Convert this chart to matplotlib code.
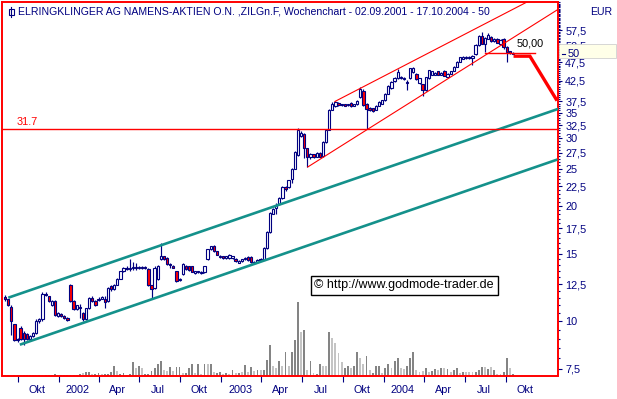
import matplotlib
matplotlib.use('Agg')
import matplotlib.pyplot as plt
import matplotlib.dates as mdates
from matplotlib.ticker import FixedLocator, FixedFormatter, NullFormatter
from matplotlib.transforms import blended_transform_factory
from matplotlib.patches import Rectangle
from matplotlib.lines import Line2D
import numpy as np
import pandas as pd

plt.rcParams['font.family'] = ['Liberation Sans', 'DejaVu Sans']

# ---------------- data ----------------
start_date = '2001-09-02'

opens = [11.55, 11.4, 10.9, 9.8, 8.9, 9.6, 9.3, 9.25, 9.0, 9.15,
         9.3, 10.0, 10.1, 11.8, 11.6, 11.0, 11.3, 10.3, 10.45, 10.3,
         10.2, 12.4, 11.3, 10.75, 10.9, 10.5, 10.1, 10.8, 11.5, 11.3,
         11.35, 11.45, 11.45, 11.3, 12.35, 12.1, 12.45, 12.9, 13.5, 13.8,
         13.7, 13.8, 13.85, 13.75, 13.85, 13.85, 13.7, 12.4, 12.2, 12.9,
         14.5, 14.75, 14.6, 14.1, 13.95, 13.5, 12.8, 13.3, 13.9, 13.9,
         13.9, 13.35, 13.4, 13.35, 13.4, 14.5, 15.4, 15.7, 15.2, 14.7,
         14.75, 14.6, 14.6, 14.6, 14.55, 14.2, 14.35, 14.5, 14.7, 14.7,
         14.2, 14.3, 14.55, 14.45, 15.5, 17.1, 19.1, 19.7, 20.2, 21.0,
         22.35, 22.4, 23.5, 25.0, 27.1, 30.4, 30.9, 28.3, 26.8, 27.3,
         26.9, 27.5, 27.0, 29.3, 31.6, 35.6, 36.5, 37.2, 36.6, 36.9,
         36.6, 37.2, 36.5, 36.8, 38.5, 40.0, 37.0, 36.0, 36.0, 35.6,
         36.5, 36.9, 37.7, 39.3, 40.6, 42.4, 43.1, 43.4, 43.0, 42.0,
         43.1, 44.8, 44.3, 41.8, 41.5, 40.1, 43.1, 44.0, 44.0, 44.9,
         44.0, 45.0, 43.4, 44.2, 45.0, 46.2, 47.5, 48.5, 48.6, 48.6,
         48.8, 49.8, 52.6, 55.7, 53.0, 54.6, 55.1, 53.8, 54.5, 52.8,
         54.6, 52.0, 50.7, 50.3]

highs = [11.7, 11.45, 11.0, 9.85, 9.05, 9.7, 9.4, 9.3, 9.2, 9.35,
         10.1, 10.2, 11.9, 11.9, 11.65, 11.35, 11.35, 10.55, 10.5, 10.35,
         10.25, 12.5, 11.35, 11.05, 11.1, 10.55, 10.85, 11.55, 11.6, 11.35,
         11.55, 11.6, 11.6, 12.25, 12.4, 12.5, 12.95, 13.55, 13.85, 13.9,
         14.5, 14.3, 14.2, 13.9, 13.9, 13.9, 13.75, 12.45, 13.9, 14.0,
         16.0, 14.8, 14.7, 14.2, 14.0, 13.55, 12.95, 14.15, 14.0, 13.95,
         13.95, 13.55, 13.55, 13.5, 13.95, 15.45, 15.75, 15.8, 15.25, 14.85,
         14.8, 14.8, 14.95, 14.8, 14.6, 14.4, 14.55, 14.7, 14.75, 14.75,
         14.35, 14.5, 14.6, 15.6, 17.2, 19.3, 19.8, 20.3, 21.1, 22.5,
         22.5, 23.4, 25.1, 27.8, 31.9, 31.3, 31.0, 28.4, 27.5, 27.4,
         27.6, 27.6, 29.5, 31.7, 35.8, 37.4, 37.6, 37.3, 37.0, 37.0,
         37.0, 37.3, 37.0, 37.8, 41.0, 40.5, 37.1, 36.2, 36.1, 36.7,
         37.6, 37.9, 39.5, 41.4, 42.3, 43.4, 45.6, 43.6, 43.4, 42.6,
         45.8, 46.1, 44.5, 43.2, 41.7, 43.5, 45.4, 45.0, 44.8, 45.0,
         44.8, 45.2, 44.5, 45.1, 46.4, 47.7, 49.1, 49.3, 49.2, 49.2,
         49.5, 52.8, 56.0, 57.0, 55.3, 56.6, 55.4, 54.9, 54.8, 54.6,
         54.8, 52.2, 50.9, 50.5]

lows = [11.3, 10.95, 9.2, 8.85, 8.8, 8.95, 8.65, 8.95, 8.95, 9.1,
        9.25, 9.9, 10.0, 11.6, 11.25, 10.95, 10.3, 10.25, 10.25, 10.1,
        10.0, 11.25, 10.7, 10.7, 10.2, 10.0, 10.05, 10.75, 11.25, 10.95,
        11.3, 11.4, 10.8, 11.2, 12.0, 12.05, 12.4, 12.85, 13.45, 13.6,
        13.5, 13.6, 13.6, 13.7, 13.7, 13.65, 12.35, 11.5, 12.1, 12.8,
        14.4, 14.45, 14.0, 13.8, 13.75, 12.65, 12.75, 13.2, 13.6, 13.55,
        13.4, 13.3, 13.35, 13.3, 13.35, 14.4, 15.3, 15.15, 14.85, 14.65,
        14.55, 14.55, 14.55, 14.55, 14.3, 14.15, 14.3, 14.45, 14.35, 14.2,
        14.15, 14.25, 14.35, 14.4, 15.4, 17.0, 19.0, 19.0, 20.1, 20.9,
        21.9, 22.3, 23.0, 24.9, 27.0, 30.2, 26.7, 25.2, 26.5, 26.7,
        26.8, 26.8, 26.9, 29.2, 31.5, 35.5, 36.3, 36.5, 36.4, 36.4,
        36.5, 36.3, 36.4, 36.7, 38.3, 36.5, 31.7, 35.4, 35.2, 35.5,
        36.4, 36.8, 37.6, 39.2, 40.5, 42.2, 42.8, 42.9, 42.7, 40.1,
        43.0, 44.6, 42.6, 41.6, 38.8, 40.0, 43.0, 43.9, 43.9, 43.9,
        43.9, 43.6, 43.3, 44.1, 44.9, 46.1, 47.4, 48.4, 48.5, 48.4,
        46.7, 49.6, 52.4, 52.9, 50.5, 54.4, 53.6, 53.6, 53.2, 52.6,
        51.5, 47.5, 50.0, 49.8]

closes = [11.4, 11.0, 10.0, 8.9, 9.0, 9.0, 9.0, 9.0, 9.15, 9.3,
          10.0, 10.1, 11.8, 11.7, 11.3, 11.3, 10.4, 10.5, 10.3, 10.2,
          10.05, 11.3, 10.75, 11.0, 10.85, 10.1, 10.8, 11.5, 11.3, 11.0,
          11.45, 11.55, 11.2, 12.2, 12.1, 12.45, 12.9, 13.5, 13.8, 13.7,
          13.8, 13.85, 13.75, 13.85, 13.8, 13.75, 12.4, 12.1, 13.8, 13.9,
          14.75, 14.5, 14.1, 14.0, 13.8, 12.7, 12.9, 14.1, 13.65, 13.6,
          13.45, 13.5, 13.5, 13.45, 13.9, 15.4, 15.7, 15.2, 14.9, 14.8,
          14.6, 14.75, 14.9, 14.75, 14.35, 14.35, 14.5, 14.65, 14.4, 14.25,
          14.3, 14.45, 14.4, 15.5, 17.1, 19.2, 19.6, 20.1, 21.0, 22.4,
          22.2, 23.3, 25.0, 27.7, 31.5, 31.0, 28.3, 26.9, 27.4, 26.9,
          27.5, 26.9, 29.3, 31.6, 35.6, 37.0, 37.4, 36.7, 36.9, 36.5,
          36.9, 36.5, 36.9, 37.5, 40.3, 36.6, 35.8, 35.6, 35.3, 36.5,
          37.4, 37.7, 39.3, 41.2, 42.1, 43.1, 44.8, 43.1, 43.2, 41.8,
          45.7, 45.9, 42.8, 43.1, 40.1, 43.3, 45.2, 44.9, 44.6, 44.0,
          44.6, 43.8, 44.3, 44.9, 46.2, 47.5, 48.9, 49.1, 49.0, 49.0,
          49.3, 52.6, 55.7, 53.1, 55.0, 56.0, 53.8, 54.6, 53.4, 54.3,
          52.0, 50.5, 50.2, 50.0]

volume = [700, 700, 1000, 1000, 700, 1000, 1000, 700, 500, 500,
          1000, 1000, 1000, 1000, 500, 700, 2000, 1000, 1000, 500,
          500, 500, 500, 700, 2000, 2700, 3300, 4000, 1300, 2000,
          2700, 1300, 1300, 2000, 4000, 10000, 4700, 2000, 2700, 700,
          2000, 14000, 8000, 10000, 7300, 1300, 1300, 4700, 7300, 11300,
          14700, 6000, 4700, 8700, 4700, 8700, 8700, 2700, 2700, 8000,
          11300, 2700, 12000, 2000, 11300, 11300, 12000, 4000, 2700, 3300,
          2000, 2700, 2000, 5300, 2700, 2700, 3300, 10700, 4000, 8700,
          4700, 5300, 5300, 5300, 16000, 30700, 10000, 7300, 14700, 10000,
          24000, 9300, 24000, 36000, 74000, 43300, 46000, 5300, 14700, 2700,
          1300, 12000, 10000, 10000, 43300, 37300, 32700, 22700, 14000, 7300,
          9300, 8000, 10000, 24000, 18000, 12000, 20000, 6000, 2700, 10000,
          10000, 2700, 8000, 12000, 8000, 14700, 18000, 7300, 6700, 9300,
          17300, 24000, 5300, 4000, 4700, 8000, 3300, 4700, 6700, 6000,
          8000, 7300, 6700, 3300, 6000, 8000, 2700, 3300, 4000, 4000,
          3300, 3300, 6000, 8700, 8700, 6700, 8700, 5300, 2000, 2000,
          4000, 18000, 8000, 2000]

light_volume_weeks = [2, 5, 10, 12, 17, 25, 28, 31, 36, 42, 44, 51, 52, 54, 57, 61,
                      63, 65, 67, 70, 72, 74, 76, 78, 80, 82, 86, 87, 89, 91, 95,
                      97, 99, 102, 103, 105, 106, 107, 108, 111, 114, 115, 117,
                      121, 124, 127, 128, 132, 133, 134, 136, 139, 141, 143, 146,
                      148, 149, 150, 154, 156, 158, 159, 162]

title_text = ('ELRINGKLINGER AG NAMENS-AKTIEN O.N. ,ZILGn.F, Wochenchart - '
              '02.09.2001 - 17.10.2004 - 50')
currency = 'EUR'
copyright_text = '\u00a9 http://www.godmode-trader.de'

price_ticks = [7.5, 10, 12.5, 15, 17.5, 20, 22.5, 25, 27.5, 30, 32.5, 35,
               37.5, 42.5, 47.5, 50, 52.5, 57.5]
price_tick_labels = ['7,5', '10', '12,5', '15', '17,5', '20', '22,5', '25',
                     '27,5', '30', '32,5', '35', '37,5', '42,5', '47,5', '50',
                     '52,5', '57,5']

quarter_starts = ['2001-10-01', '2002-01-01', '2002-04-01', '2002-07-01',
                  '2002-10-01', '2003-01-01', '2003-04-01', '2003-07-01',
                  '2003-10-01', '2004-01-01', '2004-04-01', '2004-07-01',
                  '2004-10-01']
quarter_labels = ['Okt', '2002', 'Apr', 'Jul', 'Okt', '2003', 'Apr', 'Jul',
                  'Okt', '2004', 'Apr', 'Jul', 'Okt']

resistance_level = 31.7
resistance_label = '31.7'
last_price_label = '50,00'
last_price = 50

teal_upper_dates = ['2001-09-12', '2005-01-24']
teal_upper_prices = [11.54, 35.75]
teal_lower_dates = ['2001-10-08', '2005-01-22']
teal_lower_prices = [8.70, 26.36]
red_upper_dates = ['2003-09-13', '2004-11-18']
red_upper_prices = [37.47, 68.2]
red_lower_dates = ['2003-07-14', '2005-01-24']
red_lower_prices = [25.27, 64.95]
mark_line_dates = ['2004-08-15', '2004-12-06']
mark_line_prices = [50.24, 50.24]
arrow_dates = ['2004-10-22', '2004-11-24', '2005-01-22']
arrow_prices = [49.2, 49.2, 37.98]

# ---------------- style ----------------
NAVY = '#000080'
RED = '#ff0000'
TEAL = '#14918b'
W, H = 617, 399

def d2n(s):
    return mdates.date2num(pd.Timestamp(s))

fig = plt.figure(figsize=(W / 100, H / 100), dpi=100)
fig.patch.set_facecolor('white')
rect = [1.5 / W, (H - 375.5) / H, 556 / W, 374 / H]

axv = fig.add_axes(rect)
ax = fig.add_axes(rect, sharex=axv)
axv.set_zorder(0)
ax.set_zorder(1)
ax.patch.set_visible(False)

dates = pd.date_range(start_date, periods=len(closes), freq='7D')
dn = mdates.date2num(dates)
o = np.array(opens); c = np.array(closes)
h = np.array(highs); l = np.array(lows)

# volume
light = set(light_volume_weeks)
vcols = ['#c4c4c4' if i in light else '#848484' for i in range(len(volume))]
axv.bar(dn, volume, width=4.2, color=vcols, linewidth=0)
axv.set_ylim(0, 374000)
axv.axis('off')

# candles
up = c >= o
body_lo = np.minimum(o, c)
body_hi = np.maximum(o, c)
ax.vlines(dn, l, h, color=NAVY, lw=0.85, zorder=2)
ax.bar(dn, body_hi - body_lo, bottom=body_lo, width=5.2,
       color=np.where(up, 'white', RED), edgecolor=NAVY, linewidth=0.8, zorder=3)

# lines
ax.plot([d2n(s) for s in teal_upper_dates], teal_upper_prices, color=TEAL, lw=1.9, zorder=4)
ax.plot([d2n(s) for s in teal_lower_dates], teal_lower_prices, color=TEAL, lw=1.9, zorder=4)
ax.plot([d2n(s) for s in red_upper_dates], red_upper_prices, color=RED, lw=0.8, zorder=4)
ax.plot([d2n(s) for s in red_lower_dates], red_lower_prices, color=RED, lw=0.8, zorder=4)
ax.axhline(resistance_level, color=RED, lw=1.0, zorder=4)
ax.plot([d2n(s) for s in mark_line_dates], mark_line_prices, color=RED, lw=1.0, zorder=4)
ax.plot([d2n(s) for s in arrow_dates], arrow_prices, color=RED, lw=2.4, zorder=5,
        solid_joinstyle='miter')

ax.annotate(resistance_label, (d2n('2001-09-28'), resistance_level), xytext=(0, 1.5),
            textcoords='offset points', color=RED, fontsize=7.8, ha='left', va='bottom')
ax.text(d2n('2004-11-24'), 53.2, last_price_label, color='black', fontsize=7.8,
        ha='center', va='center', zorder=6)

# axes
ax.set_yscale('log')
ax.set_ylim(7.21, 68.36)
ax.set_xlim(d2n('2001-08-25'), d2n('2005-01-25'))
ax.yaxis.tick_right()
ax.yaxis.set_major_locator(FixedLocator(price_ticks))
# the last-price label is drawn separately inside its highlight box
shown_labels = ['' if v == last_price else s for v, s in zip(price_ticks, price_tick_labels)]
ax.yaxis.set_major_formatter(FixedFormatter(shown_labels))
minor_vals = [v / 2 for v in range(15, 137) if (v / 2) not in price_ticks]
ax.yaxis.set_minor_locator(FixedLocator(minor_vals))
ax.yaxis.set_minor_formatter(NullFormatter())
ax.tick_params(axis='y', which='major', length=3, width=0.8, color=NAVY,
               labelcolor=NAVY, labelsize=7.8, pad=2.5)
ax.tick_params(axis='y', which='minor', length=1.5, width=0.8, color=NAVY)

q = [d2n(s) for s in quarter_starts]
ax.xaxis.set_minor_locator(FixedLocator(q))
ax.xaxis.set_major_locator(FixedLocator([v + 42 for v in q]))
ax.xaxis.set_major_formatter(FixedFormatter(quarter_labels))
ax.xaxis.set_minor_formatter(NullFormatter())
ax.tick_params(axis='x', which='major', length=0, labelcolor=NAVY, labelsize=7.8, pad=7)
ax.tick_params(axis='x', which='minor', length=4, width=0.8, color=NAVY)

for sp in ax.spines.values():
    sp.set_color(RED)
    sp.set_linewidth(1.4)

# title + icon
ax.text((18 - 1.5) / 556, (375.5 - 12) / 374, title_text, transform=ax.transAxes,
        ha='left', va='center', color=NAVY, fontsize=7.6)
ax.add_line(Line2D([(11 - 1.5) / 556] * 2, [(375.5 - 6.5) / 374, (375.5 - 17) / 374],
                   transform=ax.transAxes, color=NAVY, lw=0.8))
ax.add_patch(Rectangle(((8.5 - 1.5) / 556, (375.5 - 14.5) / 374), 5 / 556, 5 / 374,
                       transform=ax.transAxes, facecolor='white', edgecolor=NAVY, lw=0.8))

# copyright
ax.text(0.724, 0.241, copyright_text, transform=ax.transAxes, ha='center', va='center',
        fontsize=9, color='black', zorder=7,
        bbox=dict(boxstyle='square,pad=0.3', facecolor='white', edgecolor='black', lw=1.0))

# currency
fig.text(612 / W, 1 - 12 / H, currency, ha='right', va='center', color=NAVY, fontsize=7.6)

# last price highlight on the axis
tr = blended_transform_factory(fig.transFigure, ax.transData)
fig.add_artist(Rectangle((559 / W, 48.6), 57 / W, 52.95 - 48.6, transform=tr,
                         facecolor='#ffffe8', edgecolor='#d0d0d0', lw=0.6, zorder=5,
                         clip_on=False))
fig.add_artist(Line2D([561.5 / W, 565 / W], [last_price, last_price], transform=tr,
                      color=NAVY, lw=0.8, zorder=6))
fig.text(568 / W, last_price, '50', transform=tr, ha='left', va='center',
         color=NAVY, fontsize=7.8, zorder=6)

fig.savefig('out.png', dpi=100)
